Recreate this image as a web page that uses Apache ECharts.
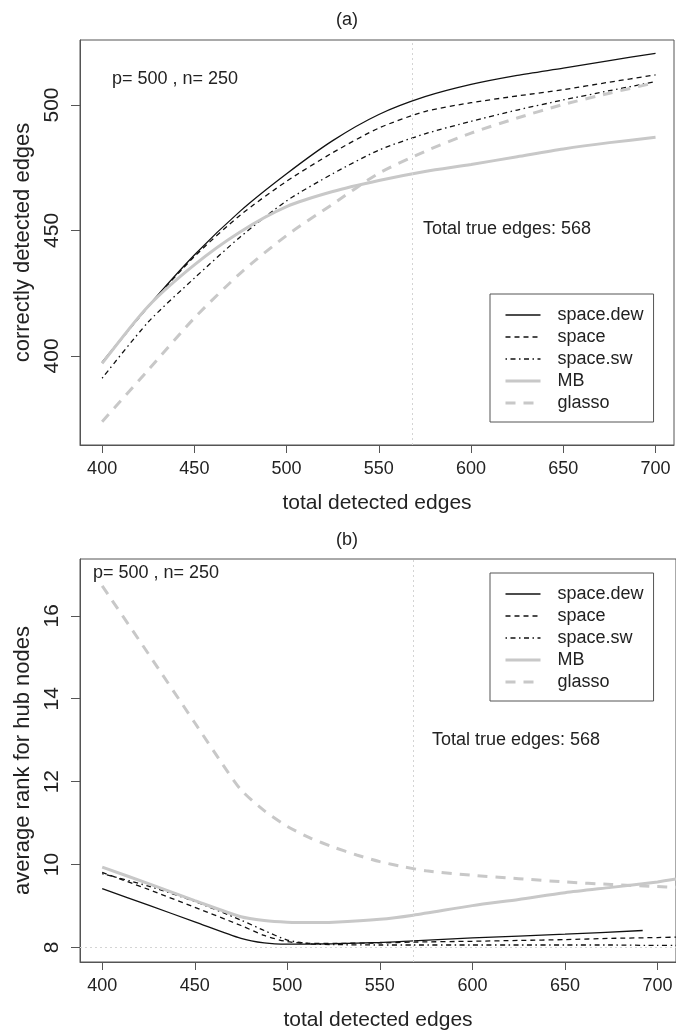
<!DOCTYPE html>
<html>
<head>
<meta charset="utf-8">
<title>space / MB / glasso</title>
<script src="https://cdn.jsdelivr.net/npm/echarts@6/dist/echarts.min.js"></script>
<style>
  html, body { margin: 0; padding: 0; background: #fff; }
  #main { width: 676px; height: 1032px; }
</style>
</head>
<body>
<div id="main"></div>
<script>
// ticks
const xTicks = [400, 450, 500, 550, 600, 650, 700];
const yTicksA = [400, 450, 500];
const yTicksB = [8, 10, 12, 14, 16];
const trueEdges = 568;
const methods = ["space.dew", "space", "space.sw", "MB", "glasso"];

// (a) correctly detected edges
const aX = [400, 425, 450, 475, 500, 525, 550, 575, 600, 625, 650, 675, 700];
const aSpaceDew = [397.5, 419.8, 440.2, 457.8, 472.6, 485.8, 496.2, 503.3, 508.2, 511.8, 514.7, 517.7, 520.6];
const aSpace = [397.2, 419.6, 439.6, 456.2, 469.6, 481.0, 490.8, 497.4, 500.9, 503.6, 506.1, 509.1, 512.0];
const aSpaceSw = [391.1, 413.5, 431.0, 447.5, 461.8, 472.6, 482.0, 488.5, 493.5, 498.0, 502.0, 505.7, 509.3];
const aMB = [397.0, 419.8, 436.3, 449.5, 459.5, 465.5, 469.9, 473.5, 476.3, 479.4, 482.5, 485.0, 487.1];
const aGlasso = [373.8, 394.4, 415.1, 433.0, 448.0, 460.5, 472.8, 481.5, 488.8, 494.8, 500.2, 504.7, 508.9];

// (b) average rank for hub nodes
const bDewX = [400, 425, 450, 475, 487.5, 500, 525, 550, 568, 600, 650, 692];
const bSpaceDew = [9.42, 9.02, 8.62, 8.22, 8.11, 8.08, 8.09, 8.12, 8.16, 8.23, 8.32, 8.41];
const bX = [400, 425, 450, 475, 487.5, 500, 512.5, 525, 550, 568, 600, 625, 650, 675, 700, 710];
const bSpace = [9.81, 9.40, 8.97, 8.53, 8.29, 8.14, 8.10, 8.10, 8.11, 8.13, 8.15, 8.17, 8.19, 8.22, 8.24, 8.25];
const bSpaceSw = [9.78, 9.48, 9.11, 8.66, 8.41, 8.18, 8.09, 8.07, 8.06, 8.06, 8.06, 8.06, 8.06, 8.06, 8.05, 8.05];
const bMB = [9.94, 9.54, 9.13, 8.74, 8.65, 8.61, 8.60, 8.61, 8.68, 8.78, 9.01, 9.16, 9.32, 9.45, 9.58, 9.65];
const bGlassoX = [400, 425, 450, 465, 475, 487.5, 500, 512.5, 525, 537.5, 550, 562.5, 575, 600, 625, 650, 675, 700, 710];
const bGlasso = [16.72, 15.08, 13.42, 12.42, 11.80, 11.30, 10.92, 10.64, 10.42, 10.23, 10.07, 9.95, 9.85, 9.74, 9.66, 9.58, 9.52, 9.47, 9.45];

const FONT = "'Liberation Sans', Arial, Helvetica, sans-serif";
const AXIS = "#555";
const BLACK = "#111";
const GREY = "#c8c8c8";

const styles = {
  "space.dew": { color: BLACK, width: 1.3, type: "solid" },
  "space": { color: BLACK, width: 1.3, type: [5, 4] },
  "space.sw": { color: BLACK, width: 1.3, type: [1.5, 3.5, 5, 3.5] },
  "MB": { color: GREY, width: 3, type: "solid" },
  "glasso": { color: GREY, width: 3, type: [10, 8] },
};

function line(name, xs, ys, idx, extra) {
  return Object.assign({
    name: name,
    type: "line",
    xAxisIndex: idx,
    yAxisIndex: idx,
    data: xs.map((x, i) => [x, ys[i]]),
    symbol: "none",
    smooth: 0.25,
    color: styles[name].color,
    lineStyle: styles[name],
    silent: true,
  }, extra || {});
}

function refLine(idx, lines) {
  return {
    silent: true,
    symbol: "none",
    label: { show: false },
    lineStyle: { color: "#d4d4d4", width: 1, type: [2, 3] },
    data: lines,
  };
}

function xAxis(idx) {
  return {
    type: "value",
    gridIndex: idx,
    min: 388,
    max: 710,
    name: "total detected edges",
    nameLocation: "middle",
    nameGap: 48,
    nameTextStyle: { fontFamily: FONT, fontSize: 21, color: "#222" },
    axisLine: { show: true, onZero: false, lineStyle: { color: AXIS } },
    axisTick: { show: true, length: 8, customValues: xTicks, lineStyle: { color: AXIS } },
    axisLabel: { customValues: xTicks, margin: 15, fontFamily: FONT, fontSize: 18, color: "#222" },
    splitLine: { show: false },
  };
}

function yAxis(idx, min, max, ticks, name) {
  return {
    type: "value",
    gridIndex: idx,
    min: min,
    max: max,
    name: name,
    nameLocation: "middle",
    nameGap: 42,
    nameTextStyle: { fontFamily: FONT, fontSize: 22, color: "#222" },
    axisLine: { show: true, onZero: false, lineStyle: { color: AXIS } },
    axisTick: { show: true, length: 9, customValues: ticks, lineStyle: { color: AXIS } },
    axisLabel: { customValues: ticks, rotate: 90, margin: 17, fontFamily: FONT, fontSize: 21, color: "#222" },
    splitLine: { show: false },
  };
}

function legend(top) {
  return {
    data: methods,
    orient: "vertical",
    left: 490,
    top: top,
    padding: [12, 10, 10, 14],
    itemWidth: 35,
    itemHeight: 14,
    itemGap: 4,
    selectedMode: false,
    borderColor: AXIS,
    borderWidth: 1,
    backgroundColor: "#fff",
    itemStyle: { opacity: 0 },
    lineStyle: { width: "inherit", type: "inherit" },
    textStyle: { fontFamily: FONT, fontSize: 18, lineHeight: 18, color: "#222", padding: [0, 0, 0, 12] },
  };
}

function text(x, y, str, align) {
  return {
    type: "text",
    left: x,
    top: y,
    style: { text: str, fontFamily: FONT, fontSize: 18, fill: "#222", textAlign: align || "left", textVerticalAlign: "middle" },
    silent: true,
  };
}

const chart = echarts.init(document.getElementById("main"), null, { renderer: "canvas" });

const option = {
  animation: false,
  backgroundColor: "#fff",
  grid: [
    { left: 80, top: 40, right: 2, height: 405, show: true, borderColor: AXIS, borderWidth: 1 },
    { left: 80, top: 559, right: 0, height: 406, show: true, borderColor: AXIS, borderWidth: 1 },
  ],
  xAxis: [xAxis(0), xAxis(1)],
  yAxis: [
    yAxis(0, 364.5, 525.9, yTicksA, "correctly detected edges"),
    yAxis(1, 7.65, 17.37, yTicksB, "average rank for hub nodes"),
  ],
  legend: [legend(294), legend(573)],
  graphic: [
    text(336, 11, "(a)"),
    text(336, 531, "(b)"),
    text(112, 70, "p= 500 , n= 250"),
    text(423, 220, "Total true edges: 568"),
    text(93, 564, "p= 500 , n= 250"),
    text(432, 731, "Total true edges: 568"),
  ],
  series: [
    line("space.dew", aX, aSpaceDew, 0, { markLine: refLine(0, [{ xAxis: trueEdges }]) }),
    line("space", aX, aSpace, 0),
    line("space.sw", aX, aSpaceSw, 0),
    line("MB", aX, aMB, 0),
    line("glasso", aX, aGlasso, 0),
    line("space.dew", bDewX, bSpaceDew, 1, { markLine: refLine(1, [{ xAxis: trueEdges }, { yAxis: 8 }]) }),
    line("space", bX, bSpace, 1),
    line("space.sw", bX, bSpaceSw, 1),
    line("MB", bX, bMB, 1),
    line("glasso", bGlassoX, bGlasso, 1),
  ],
};

chart.setOption(option);
window.onresize = function () {
  chart.resize();
};
</script>
</body>
</html>
